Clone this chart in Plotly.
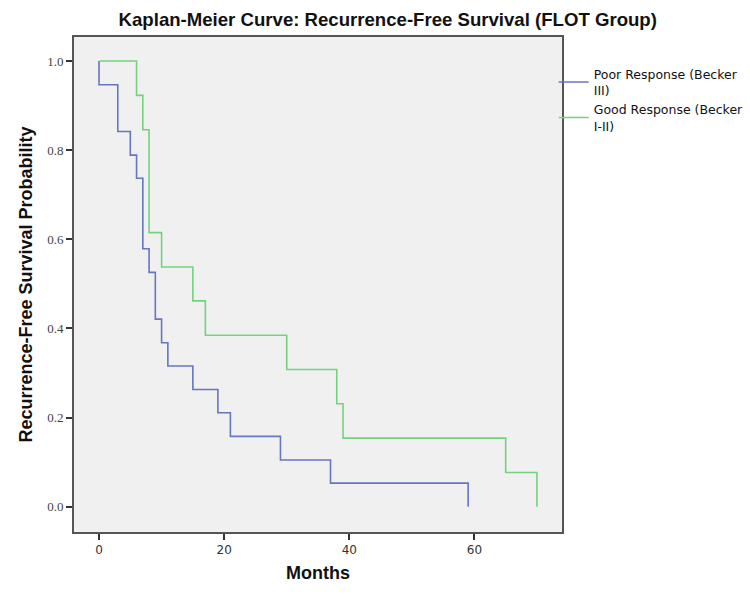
import plotly.graph_objects as go

# Kaplan-Meier step data (time in months, survival probability after each event)
poor_time = [0, 0, 3, 5, 6, 7, 8, 9, 10, 11, 15, 19, 21, 29, 37, 59]
poor_surv = [1.0, 0.947, 0.842, 0.789, 0.737, 0.579, 0.526, 0.421, 0.368, 0.316,
             0.263, 0.211, 0.158, 0.105, 0.053, 0.0]

good_time = [0, 6, 7, 8, 10, 15, 17, 30, 38, 39, 65, 70]
good_surv = [1.0, 0.923, 0.846, 0.615, 0.538, 0.462, 0.385, 0.308, 0.231, 0.154,
             0.077, 0.0]

x_ticks = [0, 20, 40, 60]
y_ticks = [0.0, 0.2, 0.4, 0.6, 0.8, 1.0]
y_tick_text = ["0.0", "0.2", "0.4", "0.6", "0.8", "1.0"]

blue = "#6576c2"
green = "#72d37c"

fig = go.Figure()
fig.add_trace(go.Scatter(x=poor_time, y=poor_surv, mode="lines", line_shape="hv",
                         line=dict(color=blue, width=1.6),
                         name="Poor Response (Becker<br>III)"))
fig.add_trace(go.Scatter(x=good_time, y=good_surv, mode="lines", line_shape="hv",
                         line=dict(color=green, width=1.6),
                         name="Good Response (Becker<br>I-II)"))

fig.update_layout(
    width=750, height=600,
    margin=dict(l=74, r=188, t=37, b=68, autoexpand=False),
    paper_bgcolor="white",
    plot_bgcolor="#f0f0f0",
    title=dict(text="<b>Kaplan-Meier Curve: Recurrence-Free Survival (FLOT Group)</b>",
               x=0.517, xanchor="center", y=0.968, yanchor="middle",
               font=dict(family="Liberation Sans", size=18.6, color="#111111")),
    legend=dict(x=0.983, xanchor="left", y=0.955, yanchor="top",
                font=dict(family="DejaVu Sans", size=12.5, color="#111111"),
                bgcolor="rgba(0,0,0,0)", tracegroupgap=0, itemwidth=30),
    showlegend=True,
)
fig.update_xaxes(
    range=[-4, 74], tickvals=x_ticks, ticks="outside", ticklen=6, tickwidth=1.5,
    tickcolor="#333333", showline=True, linecolor="#555555", linewidth=2, mirror=True,
    showgrid=False, zeroline=False,
    tickfont=dict(family="DejaVu Sans", size=12, color="#333333"),
    title=dict(text="<b>Months</b>", font=dict(family="Liberation Sans", size=18, color="#111111"),
               standoff=10),
)
fig.update_yaxes(
    range=[-0.0566, 1.054], tickvals=y_ticks, ticktext=y_tick_text, ticks="outside",
    ticklen=6, tickwidth=1.5, tickcolor="#333333", showline=True, linecolor="#555555",
    linewidth=2, mirror=True, showgrid=False, zeroline=False,
    tickfont=dict(family="Liberation Serif", size=13, color="#444444"),
    title=dict(text="<b>Recurrence-Free Survival Probability</b>",
               font=dict(family="Liberation Sans", size=18, color="#111111"), standoff=10),
)

fig.write_html("out.html")
